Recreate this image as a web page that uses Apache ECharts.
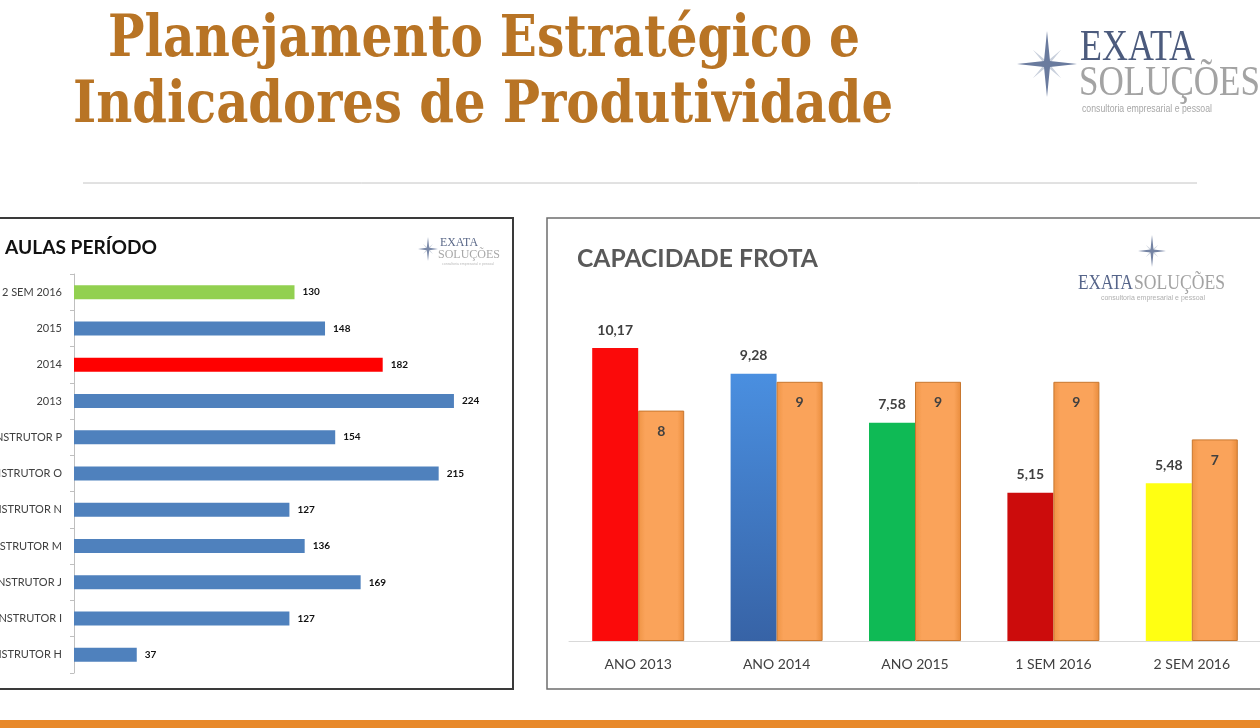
<!DOCTYPE html>
<html lang="pt-BR" style="height: 100%">
<head>
  <meta charset="utf-8">
</head>
<body style="height: 100%; margin: 0; background: #ffffff">
  <div id="container" style="width: 1260px; height: 728px"></div>

  <script type="text/javascript" src="https://cdn.jsdelivr.net/npm/echarts@6/dist/echarts.min.js"></script>
  <script type="text/javascript">
    // dados - AULAS PERÍODO
    var aulasCategorias = ['2 SEM 2016', '2015', '2014', '2013', 'INSTRUTOR P', 'INSTRUTOR O',
      'INSTRUTOR N', 'INSTRUTOR M', 'INSTRUTOR J', 'INSTRUTOR I', 'INSTRUTOR H'];
    var aulasValores = [130, 148, 182, 224, 154, 215, 127, 136, 169, 127, 37];
    var aulasCores = ['#92d050', '#4f81bd', '#ff0000', '#4f81bd', '#4f81bd', '#4f81bd',
      '#4f81bd', '#4f81bd', '#4f81bd', '#4f81bd', '#4f81bd'];

    // dados - CAPACIDADE FROTA
    var frotaCategorias = ['ANO 2013', 'ANO 2014', 'ANO 2015', '1 SEM 2016', '2 SEM 2016'];
    var frotaReal = [10.17, 9.28, 7.58, 5.15, 5.48];
    var frotaMeta = [8, 9, 9, 9, 7];
    var frotaCores = ['#fb0a0a',
      new echarts.graphic.LinearGradient(0, 0, 0, 1, [{offset: 0, color: '#4a8fe0'}, {offset: 1, color: '#3763a6'}]),
      '#0fba55', '#cc0c0c', '#ffff12'];

    var TITULO = '#b87425';
    var TEXTO = '#404040';
    var FONTE = 'Lato, "Open Sans", sans-serif';

    // mede o texto e devolve a escala horizontal para caber na largura
    var ctx = document.createElement('canvas').getContext('2d');
    function escala(texto, fonte, largura) {
      ctx.font = fonte;
      return largura / ctx.measureText(texto).width;
    }

    function texto(t, x, y, fonte, largura, cor, align) {
      return {
        type: 'text', x: x, y: y,
        scaleX: largura ? escala(t, fonte, largura) : 1,
        style: {text: t, font: fonte, fill: cor, align: align || 'left', verticalAlign: 'middle'}
      };
    }

    function estrela(cx, cy, rx, ry, w, cor) {
      return {
        type: 'polygon',
        shape: {points: [[cx, cy - ry], [cx + w, cy - w], [cx + rx, cy], [cx + w, cy + w],
          [cx, cy + ry], [cx - w, cy + w], [cx - rx, cy], [cx - w, cy - w]]},
        style: {fill: cor}
      };
    }

    function diagonal(cx, cy, r, w, cor) {
      var d = r * 0.7071, e = w * 1.2;
      return {
        type: 'polygon',
        shape: {points: [[cx - d, cy - d], [cx, cy - e], [cx + d, cy - d], [cx + e, cy],
          [cx + d, cy + d], [cx, cy + e], [cx - d, cy + d], [cx - e, cy]]},
        style: {fill: cor}
      };
    }

    var fTitulo = 'bold 58px "DejaVu Serif"';
    var graficos = [
      // cabeçalho
      texto('Planejamento Estratégico e', 484, 41, fTitulo, 752, TITULO, 'center'),
      texto('Indicadores de Produtividade', 483, 107, fTitulo, 820, TITULO, 'center'),
      {type: 'line', shape: {x1: 83, y1: 183, x2: 1197, y2: 183}, style: {stroke: '#c4c4c4', lineWidth: 1}},

      // logo principal
      diagonal(1047, 64, 20, 2, '#c9d0dc'),
      estrela(1047, 64, 30, 33, 3, '#6a7b9e'),
      texto('EXATA', 1080, 48, '44px "Liberation Serif"', 115, '#4c5b7d'),
      texto('SOLUÇÕES', 1079, 84, '42px "Liberation Serif"', 181, '#a3a3a3'),
      texto('consultoria empresarial e pessoal', 1082, 109, '10px "Liberation Sans"', 130, '#a8a8a8'),

      // moldura esquerda
      {type: 'polyline', shape: {points: [[-2, 218], [513, 218], [513, 689], [-2, 689]]},
        style: {stroke: '#3a3a3a', lineWidth: 2, fill: null}},
      texto('AULAS PERÍODO', 5, 248, 'bold 19px ' + FONTE, 152, '#111111'),
      diagonal(428, 249, 7, 1, '#cfd5df'),
      estrela(428, 249, 10, 12, 1.2, '#7a89a8'),
      texto('EXATA', 440, 243, '13px "Liberation Serif"', 38, '#5a6888'),
      texto('SOLUÇÕES', 438, 255, '13px "Liberation Serif"', 62, '#a8a8a8'),
      texto('consultoria empresarial e pessoal', 442, 264, '4px "Liberation Sans"', 52, '#bbbbbb'),

      // moldura direita
      {type: 'polyline', shape: {points: [[1262, 218], [547, 218], [547, 689], [1262, 689]]},
        style: {stroke: '#6e6e6e', lineWidth: 1.5, fill: null}},
      texto('CAPACIDADE FROTA', 577, 259, 'bold 25px ' + FONTE, 241, '#595959'),
      diagonal(1152, 251, 9, 1, '#cfd5df'),
      estrela(1152, 251, 14, 16, 1.5, '#7584a4'),
      texto('EXATA', 1078, 283, '22px "Liberation Serif"', 55, '#56658a'),
      texto('SOLUÇÕES', 1134, 283, '22px "Liberation Serif"', 91, '#a3a3a3'),
      texto('consultoria empresarial e pessoal', 1101, 298, '7px "Liberation Sans"', 104, '#b0b0b0'),

      // faixa laranja
      {type: 'rect', shape: {x: 0, y: 720, width: 1260, height: 8}, style: {fill: '#e8892a'}}
    ];

    var dom = document.getElementById('container');
    var myChart = echarts.init(dom, null, {renderer: 'canvas'});

    var option = {
      animation: false,
      backgroundColor: '#ffffff',
      textStyle: {fontFamily: FONTE},
      graphic: graficos,
      grid: [
        {left: 74, top: 274, width: 441, height: 399, containLabel: false, outerBoundsMode: 'none'},
        {left: 569, top: 295.4, width: 692, height: 345.6, containLabel: false, outerBoundsMode: 'none'}
      ],
      xAxis: [
        {gridIndex: 0, type: 'value', min: 0, max: 260, show: false},
        {
          gridIndex: 1, type: 'category', data: frotaCategorias,
          axisLine: {lineStyle: {color: '#d9d9d9', width: 1}},
          axisTick: {show: false},
          axisLabel: {color: TEXTO, fontSize: 14, margin: 16}
        }
      ],
      yAxis: [
        {
          gridIndex: 0, type: 'category', data: aulasCategorias, inverse: true,
          axisLine: {lineStyle: {color: '#bfbfbf'}},
          axisTick: {show: true, length: 4, lineStyle: {color: '#bfbfbf'}},
          axisLabel: {color: TEXTO, fontSize: 11, margin: 12}
        },
        {gridIndex: 1, type: 'value', min: 0, max: 12, show: false}
      ],
      series: [
        {
          name: 'Aulas', type: 'bar', xAxisIndex: 0, yAxisIndex: 0, barWidth: 14,
          data: aulasValores.map(function (v, i) {
            return {value: v, itemStyle: {color: aulasCores[i]}};
          }),
          label: {show: true, position: 'right', distance: 8, color: '#111', fontSize: 10, fontWeight: 'bold'}
        },
        {
          name: 'Capacidade', type: 'bar', xAxisIndex: 1, yAxisIndex: 1, barWidth: 46, barGap: '0%',
          data: frotaReal.map(function (v, i) {
            return {value: v, itemStyle: {color: frotaCores[i]}};
          }),
          label: {
            show: true, position: 'top', distance: 11, color: TEXTO, fontSize: 14, fontWeight: 'bold',
            formatter: function (p) { return String(p.value).replace('.', ','); }
          }
        },
        {
          name: 'Meta', type: 'bar', xAxisIndex: 1, yAxisIndex: 1, barWidth: 46,
          data: frotaMeta,
          itemStyle: {
            color: new echarts.graphic.LinearGradient(0, 0, 1, 0, [
              {offset: 0, color: '#ef9445'}, {offset: 0.15, color: '#faa35a'},
              {offset: 0.85, color: '#faa35a'}, {offset: 1, color: '#e98c3c'}]),
            borderColor: '#c8772f', borderWidth: 1
          },
          label: {show: true, position: 'insideTop', distance: 14, color: TEXTO, fontSize: 14, fontWeight: 'bold'}
        }
      ]
    };

    myChart.setOption(option);
    window.addEventListener('resize', myChart.resize);
  </script>
</body>
</html>
